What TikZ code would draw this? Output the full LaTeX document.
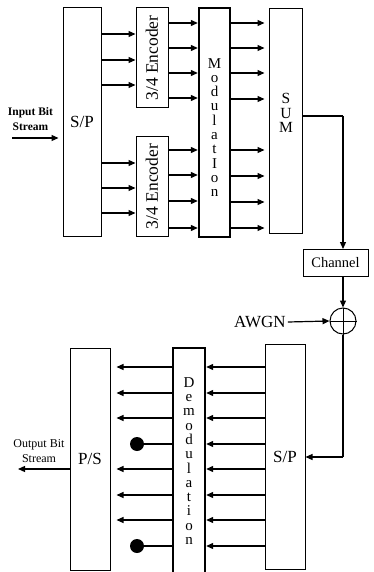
\documentclass[tikz,border=0pt]{standalone}
\usepackage{fontspec}
\usepackage{graphicx}
\setmainfont{Liberation Serif}
\usetikzlibrary{arrows.meta}
\begin{document}
\begin{tikzpicture}[x=1pt,y=-1pt,
  box/.style={draw, line width=1pt, inner sep=0pt},
  thickbox/.style={draw, line width=2.4pt, inner sep=0pt},
  arr/.style={line width=1.2pt, -{Triangle[length=7pt,width=6pt]}},
  ln/.style={line width=1.2pt},
  bigtxt/.style={font=\fontsize{17}{19}\selectfont},
  enctxt/.style={font=\fontsize{17.5}{19}\selectfont},
  stack/.style={align=center, inner sep=0pt, font=\fontsize{15}{14.3}\selectfont},
  small/.style={align=center, inner sep=0pt},
  dotn/.style={circle, fill, inner sep=0pt, minimum size=14pt}]
\fill[white] (0,0) rectangle (374,572);
\useasboundingbox (0,0) rectangle (374,572);

% transmitter
\node[box, bigtxt, minimum width=38pt, minimum height=228pt] (sp1) at (82,122) {S/P};
\node[box, enctxt, minimum width=32pt, minimum height=100pt] (enc1) at (152,58) {\rotatebox{90}{3/4 Encoder}};
\node[box, enctxt, minimum width=32pt, minimum height=99pt] (enc2) at (152,186.5) {\rotatebox{90}{3/4 Encoder}};
\node[thickbox, minimum width=31pt, minimum height=229pt] (mod) at (214.5,122.5) {};
\node[stack] (modtxt) at (214.5,127.5) {M\\o\\d\\u\\l\\a\\t\\I\\o\\n};
\node[box, minimum width=33pt, minimum height=224pt] (sum) at (285.5,121) {};
\node[stack, font=\fontsize{15.5}{14.5}\selectfont] (sumtxt) at (286,113) {S\\U\\M};

\foreach \y in {34,60,85} \draw[arr] (sp1.east |- 0,\y) -- (enc1.west |- 0,\y);
\foreach \y in {163,188,213} \draw[arr] (sp1.east |- 0,\y) -- (enc2.west |- 0,\y);
\foreach \y in {23,48,73,98} \draw[arr] (enc1.east |- 0,\y) -- (mod.west |- 0,\y);
\foreach \y in {150,175,201,228} \draw[arr] (enc2.east |- 0,\y) -- (mod.west |- 0,\y);
\foreach \y in {23,48,73,99,150,176,202,228} \draw[arr, shorten >=4pt] (mod.east |- 0,\y) -- (sum.west |- 0,\y);

\coordinate (in) at (12,138);
\draw[arr, shorten >=4pt] (in) -- (sp1.west |- in);
\node[small, font=\bfseries\fontsize{11.5}{15}\selectfont] (intxt) at (30.5,119) {Input Bit\\Stream};

% channel
\coordinate (bus) at (343,116);
\node[box, font=\fontsize{14.5}{16}\selectfont, minimum width=65pt, minimum height=27pt] (chan) at (335.5,263) {Channel};
\draw[ln] (sum.east |- bus) -- (bus);
\draw[arr] (bus) -- (bus |- chan.north);
\node[circle, draw, line width=1pt, minimum size=26pt, inner sep=0pt] (add) at (343,321) {};
\draw[line width=1pt] (add.north) -- (add.south) (add.west) -- (add.east);
\draw[arr] (bus |- chan.south) -- (add.north);
\node[bigtxt, inner sep=2pt] (awgn) at (260,322) {AWGN};
\draw[arr] (awgn.east) -- (add.west);

% receiver
\node[box, bigtxt, minimum width=40pt, minimum height=225pt] (sp2) at (285,456.5) {S/P};
\node[thickbox, minimum width=32pt, minimum height=230pt] (demod) at (189,463) {};
\node[stack] (demodtxt) at (189,461) {D\\e\\m\\o\\d\\u\\l\\a\\t\\i\\o\\n};
\node[box, bigtxt, minimum width=40pt, minimum height=222pt] (ps) at (90,459) {P/S};

\coordinate (turn) at (343,457);
\draw[ln] (add.south) -- (turn);
\draw[arr] (turn) -- (sp2.east |- turn);

\foreach \y in {367,393,418,444,469,495,520,546} \draw[arr] (sp2.west |- 0,\y) -- (demod.east |- 0,\y);
\foreach \y in {367,393,418,469,495,520} \draw[arr, shorten >=6pt] (demod.west |- 0,\y) -- (ps.east |- 0,\y);
\node[dotn] (dot1) at (137,444) {};
\node[dotn] (dot2) at (137,546) {};
\draw[ln] (demod.west |- dot1) -- (dot1);
\draw[ln] (demod.west |- dot2) -- (dot2);

\coordinate (out) at (18,469);
\draw[arr] (ps.west |- out) -- (out);
\node[small, font=\fontsize{12}{15}\selectfont] (outtxt) at (39,451) {Output Bit\\Stream};
\end{tikzpicture}
\end{document}
